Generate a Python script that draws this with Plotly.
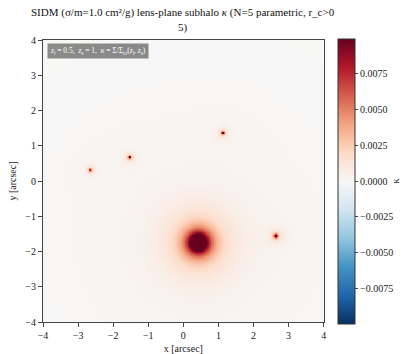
import numpy as np
import plotly.graph_objects as go

# Subhalo parameters
sub_x = [0.42, 2.63, 1.12, -1.54, -2.66]        # arcsec
sub_y = [-1.74, -1.55, 1.37, 0.68, 0.32]        # arcsec
sub_amp = [0.0195, 0.020, 0.014, 0.013, 0.011]  # central kappa
sub_rc = [0.25, 0.035, 0.035, 0.035, 0.035]     # core radius, arcsec

cbar_ticks = [-0.0075, -0.005, -0.0025, 0.0, 0.0025, 0.005, 0.0075]
axis_ticks = [-4, -3, -2, -1, 0, 1, 2, 3, 4]
zlim = 0.0099

n = 401
g = np.linspace(-4, 4, n)
X, Y = np.meshgrid(g, g)
kappa = np.zeros_like(X)
for x0, y0, a, rc in zip(sub_x, sub_y, sub_amp, sub_rc):
    r2 = (X - x0) ** 2 + (Y - y0) ** 2
    kappa += a * rc ** 2 / (r2 + rc ** 2)

rdbu_r = ["#053061", "#2166ac", "#4393c3", "#92c5de", "#d1e5f0", "#f7f7f7",
          "#fddbc7", "#f4a582", "#d6604d", "#b2182b", "#67001f"]
cs = [[i / (len(rdbu_r) - 1), c] for i, c in enumerate(rdbu_r)]

font = "Liberation Serif, Times New Roman, serif"
W, H = 408, 354
L, R, T, B = 43, 0, 40, 32
plot_right = 326
pw = W - L - R
ph = H - T - B

fig = go.Figure(go.Heatmap(
    x=g, y=g, z=kappa, colorscale=cs, zmin=-zlim, zmax=zlim, zsmooth="best",
    colorbar=dict(
        x=(340 - L) / pw, xanchor="left", xpad=0, y=0.5, yanchor="middle",
        len=1.01, ypad=0,
        thickness=17, outlinewidth=1, outlinecolor="#333",
        tickvals=cbar_ticks, tickformat=".4f", ticks="outside", ticklen=3,
        tickfont=dict(size=10, family=font, color="#222"),
        title=dict(text="κ", side="right", font=dict(size=10, family=font, color="#222")),
    ),
))

axis_common = dict(
    range=[-4, 4], tickvals=axis_ticks, ticks="outside", ticklen=4,
    showline=True, mirror=True, linecolor="#444", linewidth=1,
    showgrid=False, zeroline=False,
    tickfont=dict(size=10, family=font, color="#222"),
)
fig.update_xaxes(domain=[0, (plot_right - L) / pw],
                 title=dict(text="x [arcsec]", font=dict(size=10, family=font, color="#222"), standoff=4),
                 **axis_common)
fig.update_yaxes(title=dict(text="y [arcsec]", font=dict(size=10, family=font, color="#222"), standoff=6),
                 **axis_common)

fig.add_annotation(
    xref="paper", yref="paper", x=0.015 * 283 / pw, y=0.99, xanchor="left", yanchor="top",
    text="<i>z</i><sub>l</sub> = 0.5,  <i>z</i><sub>s</sub> = 1,  <i>κ</i> = Σ/Σ<sub>cr</sub>(<i>z</i><sub>l</sub>, <i>z</i><sub>s</sub>)",
    showarrow=False, font=dict(size=7.5, family=font, color="white"),
    bgcolor="rgba(125,125,125,0.9)", borderpad=2,
)

title_x = ((L + plot_right) / 2 - L) / pw
fig.add_annotation(
    xref="paper", yref="paper", x=title_x, y=1 + (T - 12) / ph, xanchor="center", yanchor="middle",
    text="SIDM (σ/m=1.0 cm²/g) lens-plane subhalo <i>κ</i> (N=5 parametric, r_c>0",
    showarrow=False, font=dict(size=11, family=font, color="#111"),
)
fig.add_annotation(
    xref="paper", yref="paper", x=title_x, y=1 + (T - 28) / ph, xanchor="center", yanchor="middle",
    text="5)", showarrow=False, font=dict(size=11, family=font, color="#111"),
)

fig.update_layout(
    width=W, height=H,
    margin=dict(l=L, r=R, t=T, b=B),
    paper_bgcolor="white", plot_bgcolor="white",
)

fig.write_html("out.html")
